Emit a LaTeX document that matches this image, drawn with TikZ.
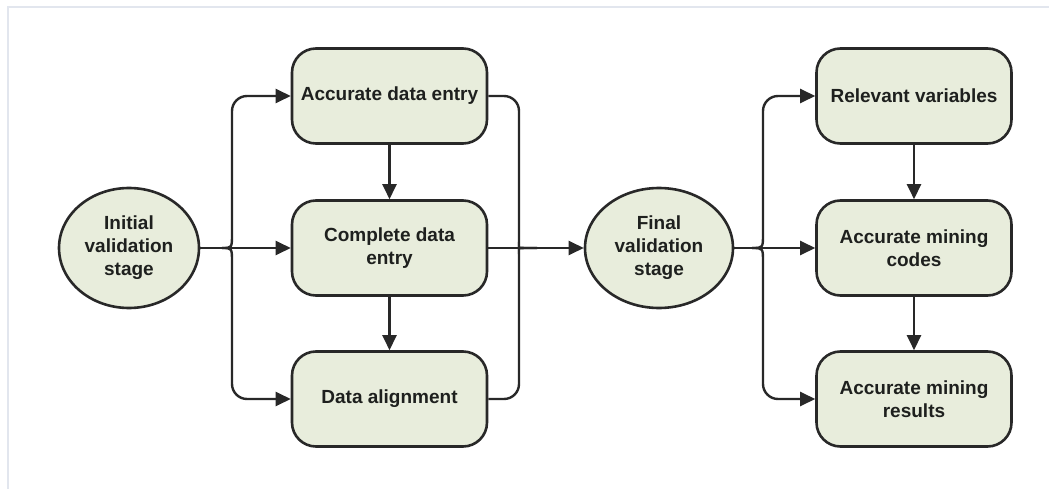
\documentclass[tikz,border=0pt]{standalone}
\usepackage{fontspec}
\setmainfont{Liberation Sans}
\usetikzlibrary{shapes.geometric,arrows.meta}
\definecolor{boxfill}{RGB}{232,237,220}
\definecolor{edge}{RGB}{40,40,40}
\definecolor{txt}{RGB}{30,32,30}
\definecolor{frame}{RGB}{226,230,238}
\tikzset{
  base/.style={draw=edge, line width=2.6pt, fill=boxfill, text=txt,
    font=\bfseries\fontsize{19pt}{23pt}\selectfont, align=center, inner sep=0pt},
  stepbox/.style={base, rectangle, rounded corners=24pt,
    minimum width=195pt, minimum height=95pt},
  stage/.style={base, ellipse, minimum height=120pt},
  link/.style={draw=edge, line width=2.4pt},
  arr/.style={link, -{Triangle[length=15pt,width=14pt]}},
}
\begin{document}
\begin{tikzpicture}[x=1pt,y=-1pt]
\useasboundingbox (0,0) rectangle (1049,489);
% thin page frame
\draw[frame, line width=2pt] (7.5,489) -- (7.5,7.5) -- (1049,7.5);

% stages
\node[stage, minimum width=140pt] (init) at (129,248) {Initial\\validation\\stage};
\node[stage, minimum width=148pt] (fin) at (659,248) {Final\\validation\\stage};

% left column
\node[stepbox] (b1) at (389.5,96) {Accurate data entry};
\node[stepbox] (b2) at (389.5,248) {Complete data\\entry};
\node[stepbox] (b3) at (389.5,399) {Data alignment};

% right column
\node[stepbox] (r1) at (914,96) {Relevant variables};
\node[stepbox] (r2) at (914,248) {Accurate mining\\codes};
\node[stepbox] (r3) at (914,399) {Accurate mining\\results};

% branch and merge points
\coordinate (jL) at (222,248);
\coordinate (vL) at (232,248);
\coordinate (vM) at (519,248);
\coordinate (jM) at (537,248);
\coordinate (jR) at (752,248);
\coordinate (vR) at (763,248);

% initial stage fans out
\draw[arr] (init.east) -- (b2.west);
\draw[arr] (jL) .. controls (vL) .. ([yshift=14pt]vL) [rounded corners=15pt] -- (vL |- b1.west) -- (b1.west);
\draw[arr] (jL) .. controls (vL) .. ([yshift=-14pt]vL) [rounded corners=15pt] -- (vL |- b3.west) -- (b3.west);

% left column steps
\draw[arr] (b1.south) -- (b2.north);
\draw[arr] (b2.south) -- (b3.north);

% left column merges into final stage
\draw[arr] (b2.east) -- (fin.west);
\draw[link, rounded corners=15pt] (b1.east) -- (vM |- b1.east) -- ([yshift=14pt]vM) [sharp corners] .. controls (vM) .. (jM);
\draw[link, rounded corners=15pt] (b3.east) -- (vM |- b3.east) -- ([yshift=-14pt]vM) [sharp corners] .. controls (vM) .. (jM);

% final stage fans out
\draw[arr] (fin.east) -- (r2.west);
\draw[arr] (jR) .. controls (vR) .. ([yshift=14pt]vR) [rounded corners=15pt] -- (vR |- r1.west) -- (r1.west);
\draw[arr] (jR) .. controls (vR) .. ([yshift=-14pt]vR) [rounded corners=15pt] -- (vR |- r3.west) -- (r3.west);

% right column steps
\draw[arr] (r1.south) -- (r2.north);
\draw[arr] (r2.south) -- (r3.north);
\end{tikzpicture}
\end{document}
